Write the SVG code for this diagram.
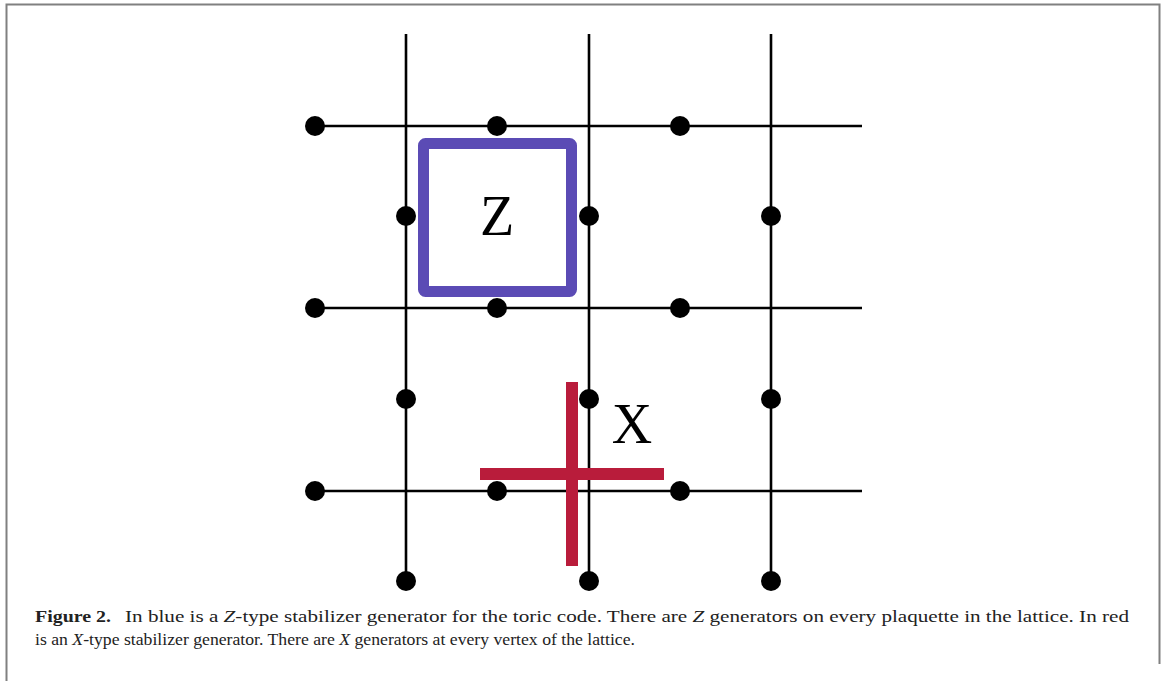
<svg xmlns="http://www.w3.org/2000/svg" width="1165" height="681" viewBox="0 0 1165 681">
<style>
.lat{stroke:#000;stroke-width:2.6;fill:none}
.dot{fill:#000}
.frame{stroke:#808080;stroke-width:2;fill:none}
.cap{font-family:"Liberation Serif","Times New Roman",serif;font-size:17px;fill:#222}
.lbl{font-family:"Liberation Serif","Times New Roman",serif;font-size:56px;fill:#000}
</style>
<rect width="1165" height="681" fill="#fff"/>
<path class="frame" d="M6.5,681 V4.5 H1159.5 V664"/>
<g id="connectors">
<line class="lat" x1="406" y1="34" x2="406" y2="581"/>
<line class="lat" x1="589" y1="34" x2="589" y2="581"/>
<line class="lat" x1="771" y1="34" x2="771" y2="581"/>
<line class="lat" x1="315" y1="126" x2="862" y2="126"/>
<line class="lat" x1="315" y1="308" x2="862" y2="308"/>
<line class="lat" x1="315" y1="491" x2="862" y2="491"/>
</g>
<g id="n1"><circle class="dot" cx="315" cy="126" r="10"/></g>
<g id="n2"><circle class="dot" cx="497" cy="126" r="10"/></g>
<g id="n3"><circle class="dot" cx="680" cy="126" r="10"/></g>
<g id="n4"><circle class="dot" cx="406" cy="216" r="10"/></g>
<g id="n5"><circle class="dot" cx="589" cy="216" r="10"/></g>
<g id="n6"><circle class="dot" cx="771" cy="216" r="10"/></g>
<g id="n7"><circle class="dot" cx="315" cy="308" r="10"/></g>
<g id="n8"><circle class="dot" cx="497" cy="308" r="10"/></g>
<g id="n9"><circle class="dot" cx="680" cy="308" r="10"/></g>
<g id="n10"><circle class="dot" cx="406" cy="399" r="10"/></g>
<g id="n11"><circle class="dot" cx="589" cy="399" r="10"/></g>
<g id="n12"><circle class="dot" cx="771" cy="399" r="10"/></g>
<g id="n13"><circle class="dot" cx="315" cy="491" r="10"/></g>
<g id="n14"><circle class="dot" cx="497" cy="491" r="10"/></g>
<g id="n15"><circle class="dot" cx="680" cy="491" r="10"/></g>
<g id="n16"><circle class="dot" cx="406" cy="581" r="10"/></g>
<g id="n17"><circle class="dot" cx="589" cy="581" r="10"/></g>
<g id="n18"><circle class="dot" cx="771" cy="581" r="10"/></g>
<g id="zgen">
<rect x="423.5" y="143.5" width="148" height="148" rx="2" fill="none" stroke="#5b4bb5" stroke-width="11"/>
<text class="lbl" x="497" y="235" text-anchor="middle">Z</text>
</g>
<g id="xgen">
<rect x="566" y="382" width="12" height="184" fill="#b91c3b"/>
<rect x="480" y="468" width="184" height="12" fill="#b91c3b"/>
<text class="lbl" x="632" y="443" text-anchor="middle">X</text>
</g>
<g id="caption">
<text class="cap" x="35" y="622" font-weight="bold" textLength="76" lengthAdjust="spacingAndGlyphs">Figure 2.</text>
<text class="cap" x="125" y="622" textLength="1004" lengthAdjust="spacingAndGlyphs">In blue is a <tspan font-style="italic">Z</tspan>-type stabilizer generator for the toric code. There are <tspan font-style="italic">Z</tspan> generators on every plaquette in the lattice. In red</text>
<text class="cap" x="35" y="645" textLength="600" lengthAdjust="spacingAndGlyphs">is an <tspan font-style="italic">X</tspan>-type stabilizer generator. There are <tspan font-style="italic">X</tspan> generators at every vertex of the lattice.</text>
</g>
</svg>
